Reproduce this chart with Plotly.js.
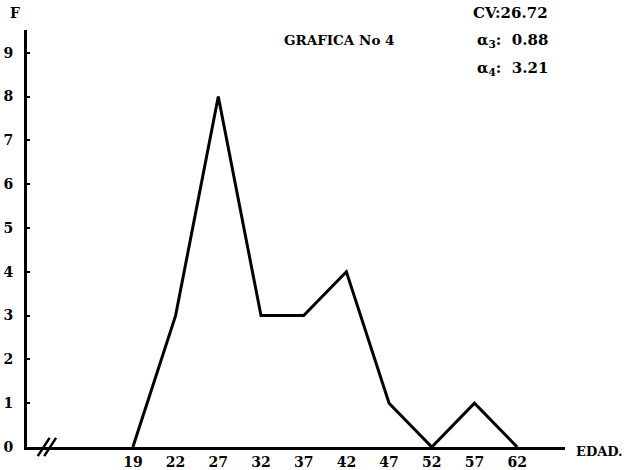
<!DOCTYPE html>
<html><head><meta charset="utf-8">
<script src="https://cdn.plot.ly/plotly-3.0.1.min.js"></script>
<style>html,body{margin:0;padding:0;background:#fff}</style>
</head><body>
<div id="chart" style="width:629px;height:470px"></div>
<script>
const edades = ["19","22","27","32","37","42","47","52","57","62"];
const frecuencias = [0, 3, 8, 3, 3, 4, 1, 0, 1, 0];
const yTicks = [0,1,2,3,4,5,6,7,8,9];

const FONT = "DejaVu Serif";
const trace = {
  x: edades, y: frecuencias, type: "scatter", mode: "lines",
  line: {color: "#000", width: 3}, cliponaxis: false, hoverinfo: "skip"
};
const layout = {
  width: 629, height: 470,
  margin: {l: 27, r: 64, t: 30, b: 23},
  paper_bgcolor: "#fff", plot_bgcolor: "#fff",
  showlegend: false,
  font: {family: FONT, color: "#000", size: 14, weight: 700},
  xaxis: {
    type: "category", range: [-2.48, 10.12],
    showgrid: false, zeroline: false, showline: true, linewidth: 3, linecolor: "#000",
    ticks: "", tickfont: {family: FONT, size: 14, weight: 700, color: "#000"}, fixedrange: true
  },
  yaxis: {
    range: [0, 9.52], tickvals: yTicks, ticktext: yTicks.map(String),
    showgrid: false, zeroline: false, showline: true, linewidth: 3, linecolor: "#000",
    ticks: "inside", ticklen: 3, tickwidth: 2, tickcolor: "#000",
    tickfont: {family: FONT, size: 14, weight: 700, color: "#000"}, ticklabelstandoff: 8, fixedrange: true
  },
  shapes: [
    {type: "line", xref: "paper", yref: "paper", x0: 0.020, y0: -0.022, x1: 0.042, y1: 0.022, line: {color: "#000", width: 2.5}},
    {type: "line", xref: "paper", yref: "paper", x0: 0.032, y0: -0.022, x1: 0.054, y1: 0.022, line: {color: "#000", width: 2.5}}
  ],
  annotations: [
    {text: "<b>F</b>", xref: "paper", yref: "paper", x: -0.022, y: 1.04, xanchor: "center", yanchor: "middle", showarrow: false, font: {family: FONT, size: 14}},
    {text: "<b>GRAFICA No 4</b>", xref: "paper", yref: "paper", x: 0.686, y: 0.975, xanchor: "right", yanchor: "middle", showarrow: false, font: {family: FONT, size: 13.5}},
    {text: "<b>CV:26.72</b>", xref: "paper", yref: "paper", x: 0.972, y: 1.04, xanchor: "right", yanchor: "middle", showarrow: false, font: {family: FONT, size: 15}},
    {text: "<b>α<sub>3</sub>:  0.88</b>", xref: "paper", yref: "paper", x: 0.972, y: 0.975, xanchor: "right", yanchor: "middle", showarrow: false, font: {family: FONT, size: 15}},
    {text: "<b>α<sub>4</sub>:  3.21</b>", xref: "paper", yref: "paper", x: 0.972, y: 0.908, xanchor: "right", yanchor: "middle", showarrow: false, font: {family: FONT, size: 15}},
    {text: "<b>EDAD.</b>", xref: "paper", yref: "paper", x: 1.016, y: -0.01, xanchor: "left", yanchor: "middle", showarrow: false, font: {family: FONT, size: 13}}
  ]
};
Plotly.newPlot("chart", [trace], layout, {displayModeBar: false, staticPlot: true});
</script>
</body></html>
